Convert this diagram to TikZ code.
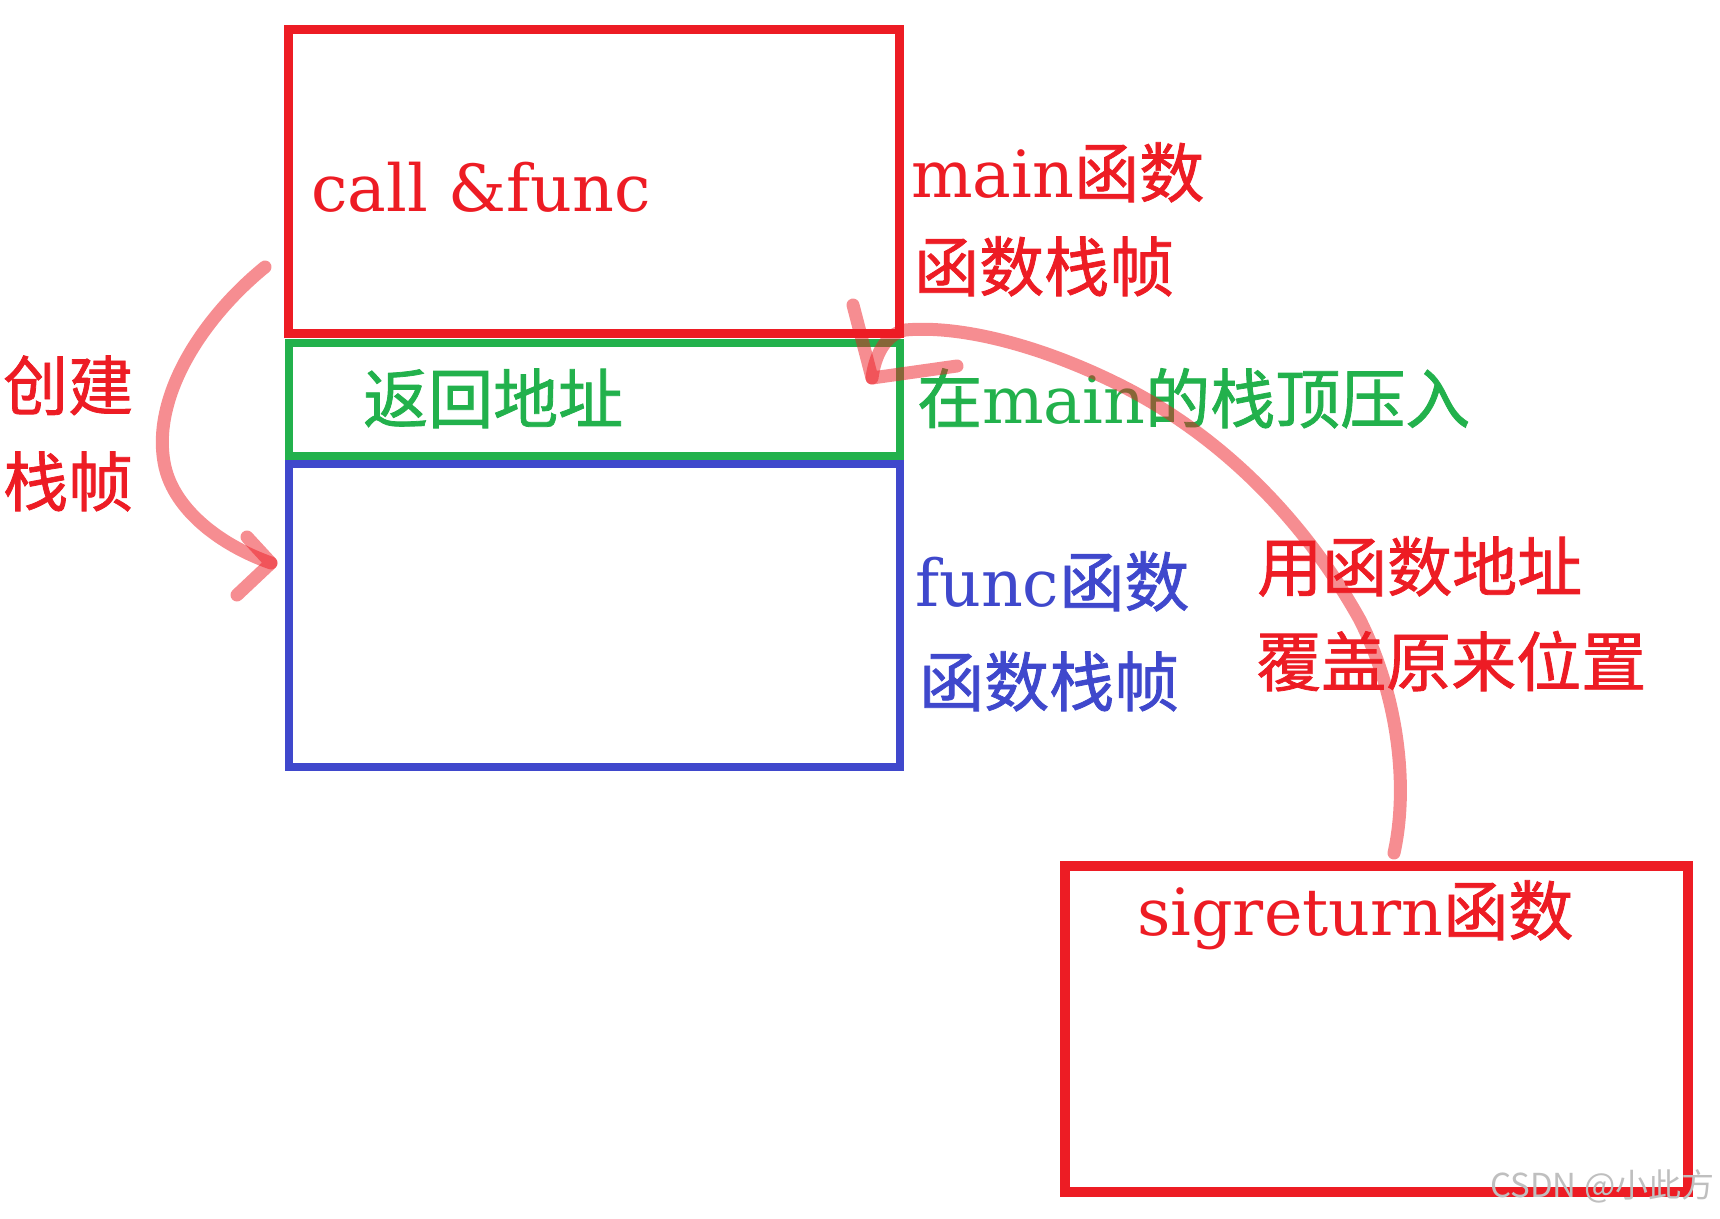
\documentclass[tikz,border=0pt]{standalone}
\usepackage{fontspec}
\setmainfont{DejaVu Serif}
\newfontfamily\cjk[FakeBold=1.2]{Noto Sans CJK SC}
\newfontfamily\markfont{Noto Sans CJK SC}
\usetikzlibrary{calc}
\definecolor{paintred}{HTML}{ED1C24}
\definecolor{paintgreen}{HTML}{22B14C}
\definecolor{paintblue}{HTML}{3F48CC}

\begin{document}
\begin{tikzpicture}[x=1pt, y=-1pt,
    redframe/.style={draw=paintred, line width=9pt, inner sep=0pt},
    greenframe/.style={draw=paintgreen, line width=8pt, inner sep=0pt},
    blueframe/.style={draw=paintblue, line width=8pt, inner sep=0pt},
    txt/.style={anchor=base west, inner sep=0pt, font=\fontsize{65}{78}\selectfont},
    pinkline/.style={draw=paintred, draw opacity=0.5, line width=13pt, line cap=round, line join=round}]
\useasboundingbox (0,0) rectangle (1720,1218);
% stack frames
\node[redframe, minimum width=611pt, minimum height=304pt] (mainframe) at (594,181.5) {};
\node[greenframe, minimum width=611pt, minimum height=113.5pt] (retframe) at (594,399.25) {};
\node[blueframe, minimum width=611pt, minimum height=302.5pt] (funcframe) at (594,615.25) {};
\node[redframe, line width=10pt, minimum width=623.5pt, minimum height=326pt] (sigframe) at (1376.25,1029) {};
% texts
\node[txt, text=paintred] (calltext) at (311,211) {call \&func};
\node[txt, text=paintred] (maintext) at (911,197) {main{\cjk 函数}};
\node[txt, text=paintred] (mainframetext) at (914,291) {\cjk 函数栈帧};
\node[txt, text=paintgreen] (rettext) at (363,423) {\cjk 返回地址};
\node[txt, text=paintgreen] (pushtext) at (917,423) {{\cjk 在}main{\cjk 的栈顶压入}};
\node[txt, text=paintred] (createtext) at (3,410) {\cjk 创建};
\node[txt, text=paintred] (createtexttwo) at (3,506) {\cjk 栈帧};
\node[txt, text=paintblue] (functext) at (915,606) {func{\cjk 函数}};
\node[txt, text=paintblue] (funcframetext) at (919,706) {\cjk 函数栈帧};
\node[txt, text=paintred] (covertext) at (1257,591) {\cjk 用函数地址};
\node[txt, text=paintred] (covertexttwo) at (1256,686) {\cjk 覆盖原来位置};
\node[txt, text=paintred] (sigtext) at (1137,935) {sigreturn{\cjk 函数}};
\node[anchor=base west, inner sep=0pt, text=gray!50, font=\markfont\fontsize{33}{38}\selectfont] (mark) at (1490,1197) {CSDN @小此方};
% hand drawn arrows
\coordinate (createstart) at (265,267);
\coordinate (createtip) at (271,563);
\draw[pinkline] (createstart) .. controls (200,320) and (150,400) .. (165,467)
    .. controls (175,510) and (220,545) .. (createtip);
\draw[pinkline] (247,537) -- (createtip) -- (237,595);
\coordinate (sigstart) at (1394,853);
\coordinate (rettip) at (872,378);
\draw[pinkline] (sigstart) .. controls (1408,790) and (1400,700) .. (1360,620)
    .. controls (1310,530) and (1230,440) .. (1120,385)
    .. controls (1040,345) and (960,325) .. (905,330)
    .. controls (885,335) and (875,355) .. (rettip);
\draw[pinkline] (853,305) -- (rettip) -- (957,366);
\end{tikzpicture}
\end{document}
